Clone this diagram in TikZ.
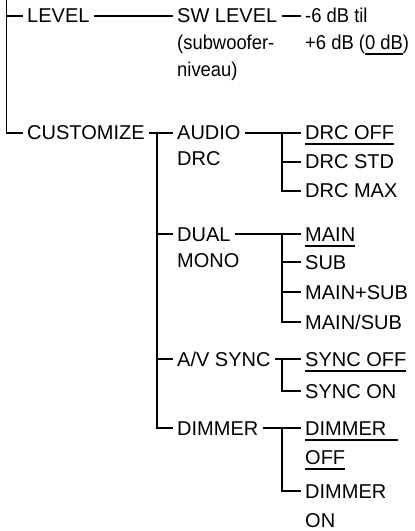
\documentclass[tikz,border=0pt]{standalone}
\usepackage{fontspec}
\setmainfont{Liberation Sans}
\newfontfamily\narrowfont[FakeStretch=0.92]{Liberation Sans}
\newcommand\myul[1]{\setbox0=\hbox{#1}\rlap{\rule[-5.5bp]{\wd0}{2bp}}\box0}
\begin{document}
\begin{tikzpicture}[x=1bp,y=-1bp,
  lbl/.style={anchor=base west, inner xsep=4.5bp, inner ysep=0pt,
    text height=14bp, text depth=0pt,
    font=\fontsize{20bp}{24bp}\selectfont},
  narrow/.style={lbl, font=\fontsize{20bp}{24bp}\narrowfont},
  tree/.style={line width=1.8bp, line join=miter}]
\useasboundingbox (0,0) rectangle (414,531);
% column 1
\node[lbl] (level) at (22.5,23) {LEVEL};
\node[lbl] (customize) at (22.5,140) {CUSTOMIZE};
% column 2
\node[lbl] (swlevel) at (172.5,23) {SW LEVEL};
\node[narrow] (swlevelb) at (172.5,50) {(subwoofer-};
\node[narrow] (swlevelc) at (172.5,77) {niveau)};
\node[lbl] (audio) at (172.5,140) {AUDIO};
\node[lbl] (audiob) at (172.5,166) {DRC};
\node[lbl] (dual) at (172.5,241) {DUAL};
\node[lbl] (dualb) at (172.5,267) {MONO};
\node[lbl] (avsync) at (172.5,366) {A/V SYNC};
\node[lbl] (dimmer) at (172.5,435) {DIMMER};
% column 3
\node[narrow] (range) at (300.5,23) {-6 dB til};
\node[narrow] (rangeb) at (300.5,50) {+6 dB (\myul{0 dB})};
\node[lbl] (drcoff) at (300.5,140) {\myul{DRC OFF}};
\node[lbl] (drcstd) at (300.5,169) {DRC STD};
\node[lbl] (drcmax) at (300.5,198) {DRC MAX};
\node[lbl] (main) at (300.5,241) {\myul{MAIN}};
\node[lbl] (sub) at (300.5,269) {SUB};
\node[lbl] (mainplussub) at (300.5,299) {MAIN+SUB};
\node[lbl] (mainslashsub) at (300.5,329) {MAIN/SUB};
\node[lbl] (syncoff) at (300.5,366) {\myul{SYNC OFF}};
\node[lbl] (syncon) at (300.5,398) {SYNC ON};
\node[lbl] (dimoff) at (300.5,435) {\myul{DIMMER\hspace{0.6em}}};
\node[lbl] (dimoffb) at (300.5,464) {\myul{OFF}};
\node[lbl] (dimon) at (300.5,498) {DIMMER};
\node[lbl] (dimonb) at (300.5,527) {ON};
% junction columns
\coordinate (ja) at (6.5,0);
\coordinate (jb) at (157,0);
\coordinate (jc) at (282,0);
% connectors
\draw[tree] (ja) |- (customize.west);
\draw[tree] (ja |- level.west) -- (level.west);
\draw[tree] (level.east) -- (swlevel.west);
\draw[tree] (swlevel.east) -- (range.west);
\draw[tree] (customize.east) -- (audio.west);
\draw[tree] (jb |- audio.west) |- (dimmer.west);
\draw[tree] (jb |- dual.west) -- (dual.west);
\draw[tree] (jb |- avsync.west) -- (avsync.west);
\draw[tree] (audio.east) -- (drcoff.west);
\draw[tree] (jc |- drcoff.west) |- (drcmax.west);
\draw[tree] (jc |- drcstd.west) -- (drcstd.west);
\draw[tree] (dual.east) -- (main.west);
\draw[tree] (jc |- main.west) |- (mainslashsub.west);
\draw[tree] (jc |- sub.west) -- (sub.west);
\draw[tree] (jc |- mainplussub.west) -- (mainplussub.west);
\draw[tree] (avsync.east) -- (syncoff.west);
\draw[tree] (jc |- syncoff.west) |- (syncon.west);
\draw[tree] (dimmer.east) -- (dimoff.west);
\draw[tree] (jc |- dimoff.west) |- (dimon.west);
\end{tikzpicture}
\end{document}
